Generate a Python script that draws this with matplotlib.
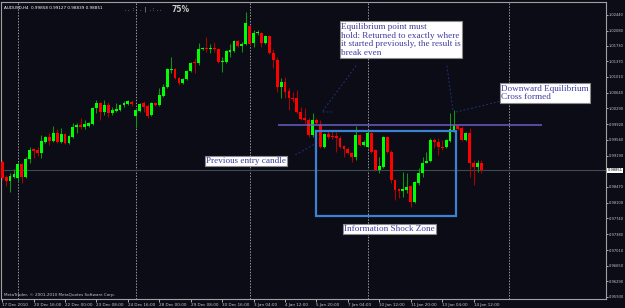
import matplotlib
matplotlib.use("Agg")
import matplotlib.pyplot as plt
from matplotlib.patches import Rectangle
import numpy as np

# AUDUSD H4 candles
opens = [0.9905, 0.9870, 0.9861, 0.9870, 0.9868, 0.9900, 0.9870, 0.9912, 0.9935, 0.9933,
         0.9926, 0.9951, 0.9963, 0.9953, 0.9972, 0.9951, 0.9970, 0.9949, 0.9963, 0.9986,
         0.9990, 0.9986, 0.9988, 0.9993, 1.0030, 1.0041, 1.0020, 1.0037, 1.0018, 1.0023,
         1.0025, 1.0037, 1.0039, 1.0043, 1.0011, 1.0023, 1.0041, 1.0034, 1.0013, 1.0041,
         1.0037, 1.0057, 1.0078, 1.0117, 1.0120, 1.0099, 1.0087, 1.0097, 1.0115, 1.0136,
         1.0133, 1.0166, 1.0168, 1.0166, 1.0168, 1.0166, 1.0136, 1.0136, 1.0159, 1.0161,
         1.0184, 1.0173, 1.0177, 1.0219, 1.0180, 1.0203, 1.0203, 1.0180, 1.0196, 1.0157,
         1.0140, 1.0078, 1.0090, 1.0069, 1.0053, 1.0053, 1.0020, 1.0006, 1.0002, 0.9967,
         1.0002, 0.9990, 0.9940, 0.9970, 0.9965, 0.9965, 0.9960, 0.9942, 0.9935, 0.9926,
         0.9916, 0.9967, 0.9944, 0.9940, 0.9972, 0.9933, 0.9886, 0.9893, 0.9963, 0.9928,
         0.9863, 0.9842, 0.9838, 0.9840, 0.9849, 0.9812, 0.9856, 0.9879, 0.9903, 0.9907,
         0.9956, 0.9951, 0.9940, 0.9940, 0.9953, 0.9976, 0.9988, 0.9983, 0.9956, 0.9972,
         0.9903, 0.9893, 0.9903]
highs = [0.9910, 0.9875, 0.9879, 0.9889, 0.9905, 0.9903, 0.9916, 0.9940, 0.9937, 0.9940,
         0.9967, 0.9965, 0.9972, 0.9988, 0.9981, 0.9983, 0.9972, 0.9967, 0.9995, 0.9995,
         1.0006, 1.0002, 0.9997, 1.0032, 1.0048, 1.0043, 1.0048, 1.0043, 1.0032, 1.0041,
         1.0039, 1.0046, 1.0048, 1.0048, 1.0030, 1.0041, 1.0046, 1.0039, 1.0043, 1.0043,
         1.0076, 1.0085, 1.0122, 1.0147, 1.0122, 1.0101, 1.0099, 1.0117, 1.0136, 1.0145,
         1.0180, 1.0170, 1.0194, 1.0177, 1.0182, 1.0168, 1.0147, 1.0163, 1.0177, 1.0187,
         1.0187, 1.0182, 1.0251, 1.0221, 1.0210, 1.0210, 1.0205, 1.0198, 1.0198, 1.0166,
         1.0147, 1.0099, 1.0101, 1.0076, 1.0066, 1.0071, 1.0032, 1.0030, 1.0006, 1.0018,
         1.0006, 1.0002, 0.9972, 0.9979, 0.9979, 0.9974, 0.9965, 0.9944, 0.9940, 0.9928,
         0.9988, 0.9970, 0.9956, 0.9974, 0.9974, 0.9935, 0.9916, 0.9965, 0.9965, 0.9933,
         0.9866, 0.9845, 0.9882, 0.9879, 0.9852, 0.9861, 0.9891, 0.9916, 0.9928, 0.9960,
         0.9960, 0.9960, 0.9956, 0.9958, 1.0018, 1.0025, 0.9990, 0.9988, 0.9974, 0.9983,
         0.9910, 0.9910, 0.9910]
lows = [0.9863, 0.9849, 0.9835, 0.9868, 0.9859, 0.9856, 0.9868, 0.9903, 0.9914, 0.9919,
        0.9914, 0.9949, 0.9944, 0.9951, 0.9949, 0.9949, 0.9946, 0.9946, 0.9960, 0.9972,
        0.9981, 0.9981, 0.9986, 0.9990, 1.0018, 1.0002, 1.0013, 1.0009, 1.0013, 1.0020,
        1.0023, 1.0032, 1.0037, 1.0034, 0.9983, 1.0020, 1.0020, 1.0006, 1.0011, 1.0034,
        1.0034, 1.0055, 1.0076, 1.0110, 1.0097, 1.0083, 1.0085, 1.0094, 1.0113, 1.0110,
        1.0129, 1.0163, 1.0159, 1.0157, 1.0159, 1.0133, 1.0113, 1.0133, 1.0147, 1.0159,
        1.0170, 1.0159, 1.0175, 1.0175, 1.0170, 1.0198, 1.0170, 1.0177, 1.0154, 1.0122,
        1.0066, 1.0053, 1.0053, 1.0025, 1.0043, 1.0018, 1.0002, 0.9995, 0.9963, 0.9963,
        0.9993, 0.9937, 0.9937, 0.9958, 0.9958, 0.9928, 0.9937, 0.9916, 0.9923, 0.9905,
        0.9910, 0.9942, 0.9942, 0.9937, 0.9926, 0.9884, 0.9879, 0.9891, 0.9926, 0.9856,
        0.9817, 0.9822, 0.9824, 0.9833, 0.9801, 0.9810, 0.9852, 0.9870, 0.9903, 0.9905,
        0.9937, 0.9921, 0.9933, 0.9937, 0.9951, 0.9974, 0.9979, 0.9953, 0.9953, 0.9870,
        0.9852, 0.9882, 0.9879]
closes = [0.9868, 0.9861, 0.9872, 0.9877, 0.9900, 0.9870, 0.9912, 0.9933, 0.9930, 0.9926,
          0.9953, 0.9963, 0.9953, 0.9972, 0.9951, 0.9970, 0.9949, 0.9965, 0.9986, 0.9990,
          0.9986, 0.9993, 0.9995, 1.0030, 1.0041, 1.0020, 1.0037, 1.0018, 1.0025, 1.0027,
          1.0037, 1.0041, 1.0046, 1.0039, 1.0025, 1.0039, 1.0032, 1.0011, 1.0041, 1.0037,
          1.0060, 1.0078, 1.0120, 1.0120, 1.0099, 1.0087, 1.0097, 1.0115, 1.0133, 1.0133,
          1.0166, 1.0168, 1.0166, 1.0168, 1.0166, 1.0136, 1.0138, 1.0161, 1.0163, 1.0184,
          1.0173, 1.0177, 1.0226, 1.0177, 1.0203, 1.0205, 1.0180, 1.0196, 1.0157, 1.0140,
          1.0078, 1.0090, 1.0066, 1.0053, 1.0050, 1.0020, 1.0004, 1.0002, 0.9967, 1.0002,
          0.9995, 0.9940, 0.9970, 0.9963, 0.9963, 0.9960, 0.9940, 0.9935, 0.9926, 0.9916,
          0.9967, 0.9944, 0.9951, 0.9972, 0.9928, 0.9886, 0.9896, 0.9963, 0.9928, 0.9863,
          0.9840, 0.9838, 0.9842, 0.9847, 0.9812, 0.9859, 0.9879, 0.9903, 0.9907, 0.9956,
          0.9951, 0.9940, 0.9937, 0.9956, 0.9981, 0.9988, 0.9981, 0.9956, 0.9972, 0.9903,
          0.9893, 0.9903, 0.9885]

time_labels = ["17 Dec 2010", "20 Dec 16:00", "22 Dec 00:00", "23 Dec 08:00",
               "24 Dec 16:00", "28 Dec 00:00", "29 Dec 08:00", "30 Dec 16:00",
               "3 Jan 04:00", "4 Jan 12:00", "5 Jan 20:00", "7 Jan 04:00",
               "10 Jan 12:00", "11 Jan 20:00", "13 Jan 04:00", "14 Jan 12:00"]
label_every = 8
week_separators = [4, 34, 63, 93, 129]

price_labels = [1.02440, 1.02080, 1.01730, 1.01370, 1.01010, 1.00640, 1.00290,
                0.99920, 0.99560, 0.99190, 0.98470, 0.98100, 0.97740, 0.97380,
                0.97010, 0.96650, 0.96290, 0.95930]
last_price = 0.98851
header = "AUDUSD,H4  0.99858 0.99127 0.98839 0.98851"

# drawn objects on the chart (bar index, price)
equilibrium_level = 0.9990
equilibrium_span = (70.2, 137.4)
zone_bars = (79.9, 115.5)
zone_prices = (0.9780, 0.9976)

notes = [
    (86.3, 1.0226, "Equilibrium point must\nhold: Returned to exactly where\nit started previously, the result is\nbreak even"),
    (127.0, 1.0083, "Downward Equilibrium\nCross formed"),
    (51.9, 0.9916, "Previous entry candle"),
    (87.0, 0.9759, "Information Shock Zone"),
]
connectors = [
    [(74.6, 0.9921), (80.2, 0.9949)],
    [(90.1, 1.0127), (81.4, 1.0020), (84.0, 1.0020)],
    [(113.2, 1.0127), (114.8, 1.0020)],
    [(115.5, 1.0020), (126.9, 1.0045)],
]

bg = "#0b0c16"
fig = plt.figure(figsize=(6.25, 3.08), dpi=100, facecolor=bg)
ax = fig.add_axes([0.0016, 0.0292, 0.968, 0.9643], facecolor=bg)

x = np.arange(len(opens))
o = np.array(opens)
h = np.array(highs)
l = np.array(lows)
c = np.array(closes)
up = c >= o
body_lo = np.minimum(o, c)
body_h = np.maximum(np.abs(c - o), 0.00012)

ax.vlines(x[up], l[up], h[up], color="#0c9a0c", lw=0.75, zorder=3)
ax.vlines(x[~up], l[~up], h[~up], color="#b00000", lw=0.75, zorder=3)
ax.bar(x[up], body_h[up], bottom=body_lo[up], width=0.72, color="#00ff00", lw=0, zorder=4)
ax.bar(x[~up], body_h[~up], bottom=body_lo[~up], width=0.72, color="#ff0000", lw=0, zorder=4)

for s in week_separators:
    ax.axvline(s, color="#9a9a9a", lw=0.7, ls=(0, (1.5, 1.5)), zorder=1)

ax.axhline(last_price, color="#3e4a52", lw=0.8, zorder=2)
ax.hlines(equilibrium_level, *equilibrium_span, color="#6a5ec8", lw=1.1, zorder=5)
ax.add_patch(Rectangle((zone_bars[0], zone_prices[0]), zone_bars[1] - zone_bars[0],
                       zone_prices[1] - zone_prices[0], fill=False,
                       ec="#3c82d2", lw=1.6, zorder=6))

for pts in connectors:
    px, py = zip(*pts)
    ax.plot(px, py, color="#22307a", lw=0.7, ls=(0, (2, 2)), zorder=5)

for nx, ny, txt in notes:
    ax.text(nx, ny, txt, fontsize=6.6, family="Liberation Serif", color="#3c3ca0",
            va="top", ha="left", linespacing=1.12, zorder=7,
            bbox=dict(boxstyle="square,pad=0.15", fc="white", ec="#8a8a8a", lw=0.8))

ax.set_xlim(-0.3, 153.7)
ax.set_ylim(0.9588, 1.0274)

ax.yaxis.tick_right()
ax.set_yticks(price_labels)
ax.set_yticklabels([f"{p:.5f}" for p in price_labels])
ax.tick_params(axis="y", colors="#c8c8c8", labelsize=2.6, length=1.5, width=0.6, pad=0.6)

ax.set_xticks(np.arange(len(time_labels)) * label_every)
ax.set_xticklabels(time_labels)
for t in ax.get_xticklabels():
    t.set_ha("left")
ax.tick_params(axis="x", colors="#c8c8c8", labelsize=3, length=2, width=0.6, pad=0.8)

for sp in ax.spines.values():
    sp.set_color("#a0a0a0")
    sp.set_linewidth(0.8)

ax.text(1.003, last_price, f"{last_price:.5f}", transform=ax.get_yaxis_transform(),
        fontsize=2.6, color="black", va="center", ha="left", clip_on=False,
        bbox=dict(boxstyle="square,pad=0.12", fc="white", ec="none"))

fig.text(0.006, 0.982, header, fontsize=3, color="white", va="top", ha="left")
fig.text(0.2, 0.978, ". .  : .  .  |  . :  . .", fontsize=3.5, color="#c8c8c8", va="top")
fig.text(0.275, 0.985, "75%", fontsize=5.5, color="#c8c8c8", weight="bold", va="top")
fig.text(0.006, 0.036, "MetaTrader, \u00a9 2001-2010 MetaQuotes Software Corp.",
         fontsize=3, color="#c8c8c8", va="bottom", ha="left")

fig.savefig("out.png", dpi=100, facecolor=bg)
